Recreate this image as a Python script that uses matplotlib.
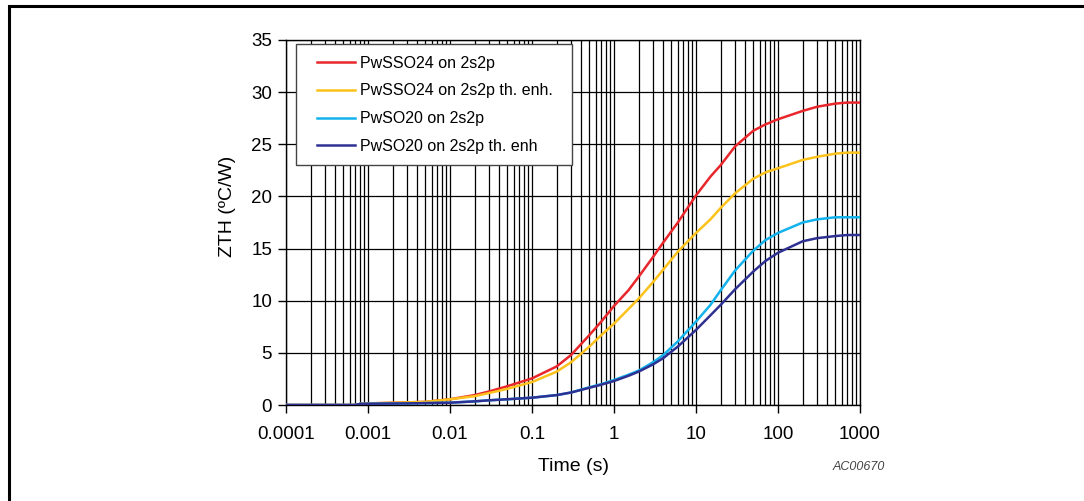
import matplotlib.pyplot as plt
from matplotlib.patches import Rectangle

plt.rcParams['font.family'] = ['Liberation Sans', 'DejaVu Sans']

# Datos
t = [0.0001, 0.0007, 0.0008, 0.001, 0.003, 0.005, 0.01, 0.02, 0.03, 0.05,
     0.1, 0.2, 0.3, 0.5, 0.7, 1, 1.5, 2, 3, 4, 6, 10, 15, 20, 30, 50, 70,
     100, 200, 300, 500, 700, 1000]
pwsso24 = [0, 0, 0.1, 0.15, 0.25, 0.3, 0.55, 0.95, 1.3, 1.8,
           2.55, 3.7, 4.8, 6.7, 8.0, 9.5, 11.0, 12.3, 14.2, 15.6, 17.5, 20.1, 21.9, 23.0, 24.8, 26.3, 26.9,
           27.4, 28.2, 28.6, 28.9, 29.0, 29.0]
pwsso24_enh = [0, 0, 0.1, 0.15, 0.25, 0.3, 0.55, 0.85, 1.15, 1.55,
               2.2, 3.2, 4.1, 5.6, 6.7, 7.8, 9.2, 10.2, 11.8, 13.0, 14.7, 16.5, 17.8, 18.9, 20.3, 21.7, 22.3,
               22.7, 23.5, 23.8, 24.1, 24.2, 24.2]
pwso20 = [0, 0, 0.1, 0.12, 0.15, 0.18, 0.22, 0.35, 0.45, 0.55,
          0.7, 0.95, 1.2, 1.7, 2.0, 2.4, 2.9, 3.3, 4.1, 4.8, 6.1, 8.0, 9.6, 11.0, 12.9, 14.8, 15.8,
          16.5, 17.5, 17.8, 18.0, 18.0, 18.0]
pwso20_enh = [0, 0, 0.1, 0.12, 0.15, 0.18, 0.22, 0.35, 0.45, 0.55,
              0.7, 0.95, 1.2, 1.65, 1.95, 2.3, 2.8, 3.2, 3.9, 4.5, 5.6, 7.2, 8.6, 9.6, 11.1, 12.8, 13.8,
              14.6, 15.7, 16.0, 16.2, 16.3, 16.3]

labels = ['PwSSO24 on 2s2p', 'PwSSO24 on 2s2p th. enh.',
          'PwSO20 on 2s2p', 'PwSO20 on 2s2p th. enh']
colors = ['#e8262b', '#fcc21b', '#12b2ec', '#2e3192']
xticks = [0.0001, 0.001, 0.01, 0.1, 1, 10, 100, 1000]
xticklabels = ['0.0001', '0.001', '0.01', '0.1', '1', '10', '100', '1000']

fig = plt.figure(figsize=(10.84, 5.01), dpi=100)
ax = fig.add_axes([286 / 1084, 1 - 405 / 501, 574 / 1084, 365 / 501])

for y, lab, c in zip([pwsso24, pwsso24_enh, pwso20, pwso20_enh], labels, colors):
    ax.plot(t, y, color=c, lw=1.8, label=lab, zorder=3)

ax.set_xscale('log')
ax.set_xlim(0.0001, 1000)
ax.set_ylim(0, 35)
ax.set_xticks(xticks)
ax.set_xticklabels(xticklabels)
ax.set_yticks(range(0, 36, 5))
ax.tick_params(axis='both', which='major', labelsize=13.5, length=6, width=1, color='black')
ax.tick_params(axis='x', pad=9)
ax.tick_params(axis='y', pad=4)
ax.tick_params(axis='x', which='minor', length=0)
ax.grid(True, which='both', axis='x', color='black', lw=0.9)
ax.grid(True, which='major', axis='y', color='black', lw=0.9)
for s in ax.spines.values():
    s.set_color('black')
    s.set_linewidth(1)

ax.set_xlabel('Time (s)', fontsize=14)
ax.set_ylabel('ZTH (ºC/W)', fontsize=14)
ax.xaxis.set_label_coords(0.5, -0.145)
ax.yaxis.set_label_coords(-0.087, 0.545)

# caja de la leyenda
ax.add_patch(Rectangle((0.0174, 0.6575), 0.4809, 0.3315, transform=ax.transAxes,
                       facecolor='white', edgecolor='#444444', lw=1, zorder=4))
leg = ax.legend(loc='upper left', bbox_to_anchor=(0.054, 0.957), borderaxespad=0,
                borderpad=0, frameon=False, fontsize=11.5,
                handlelength=2.4, handletextpad=0.3, labelspacing=0.8)
leg.set_zorder(5)

fig.text(885 / 1084, 1 - 467 / 501, 'AC00670', fontsize=9, style='italic',
         color='#444444', ha='right', va='center')

# marco de la figura
fig.patches.append(Rectangle((9 / 1084, -0.1), 1.2, 1.1 - 6 / 501, transform=fig.transFigure,
                             fill=False, lw=2.2, edgecolor='black', clip_on=False))

fig.savefig('out.png', dpi=100)
